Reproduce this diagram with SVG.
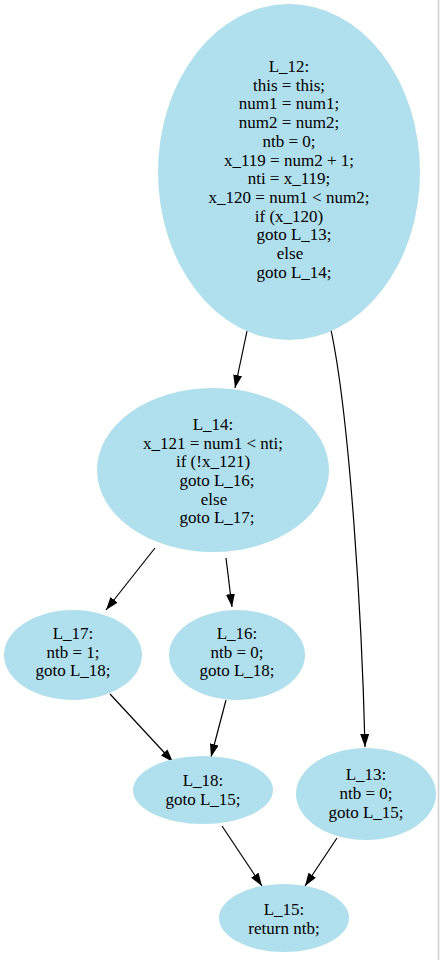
<svg xmlns="http://www.w3.org/2000/svg" width="440" height="960" viewBox="0 0 440 960">
<style>
.node ellipse{fill:#b0dfed;stroke:none}
.node text{font-family:'Liberation Serif','Times New Roman',serif;font-size:17px;fill:#000;text-anchor:middle}
.edge{fill:none;stroke:#000;stroke-width:1.2}
</style>
<defs>
<marker id="arr" viewBox="0 0 13 9" refX="13" refY="4.5" markerWidth="13" markerHeight="9" markerUnits="userSpaceOnUse" orient="auto">
<path d="M0,0 L13,4.5 L0,9 z" fill="#000"/>
</marker>
</defs>
<rect x="0" y="0" width="440" height="960" fill="#fff"/>
<line x1="438.5" y1="0" x2="438.5" y2="960" stroke="#cfcfcf" stroke-width="1.5"/>
<g id="connectors">
<path class="edge" d="M247,331 L235,388" marker-end="url(#arr)"/>
<path class="edge" d="M331,330 C350,420 362,620 365,747" marker-end="url(#arr)"/>
<path class="edge" d="M155,548 L106,610" marker-end="url(#arr)"/>
<path class="edge" d="M226,558 L232,607" marker-end="url(#arr)"/>
<path class="edge" d="M110,694 L173,762" marker-end="url(#arr)"/>
<path class="edge" d="M226,700 L211,757" marker-end="url(#arr)"/>
<path class="edge" d="M222,826 L262,886" marker-end="url(#arr)"/>
<path class="edge" d="M337,838 L305,886" marker-end="url(#arr)"/>
</g>
<g id="L_12" class="node">
<ellipse cx="289" cy="172" rx="131" ry="168"/>
<text x="289" y="72">L_12:</text>
<text x="289" y="90.7">this = this;</text>
<text x="289" y="109.4">num1 = num1;</text>
<text x="289" y="128.1">num2 = num2;</text>
<text x="289" y="146.8">ntb = 0;</text>
<text x="289" y="165.5">x_119 = num2 + 1;</text>
<text x="289" y="184.2">nti = x_119;</text>
<text x="289" y="202.9">x_120 = num1 &lt; num2;</text>
<text x="289" y="221.6">if (x_120)</text>
<text x="294" y="240.3">goto L_13;</text>
<text x="290" y="259">else</text>
<text x="294" y="277.7">goto L_14;</text>
</g>
<g id="L_14" class="node">
<ellipse cx="213" cy="470" rx="116" ry="82"/>
<text x="213" y="430">L_14:</text>
<text x="213" y="448.7">x_121 = num1 &lt; nti;</text>
<text x="213" y="467.4">if (!x_121)</text>
<text x="217" y="486">goto L_16;</text>
<text x="214" y="504.7">else</text>
<text x="217" y="523.4">goto L_17;</text>
</g>
<g id="L_17" class="node">
<ellipse cx="73" cy="655" rx="69" ry="45"/>
<text x="73" y="639">L_17:</text>
<text x="73" y="657.5">ntb = 1;</text>
<text x="73" y="676">goto L_18;</text>
</g>
<g id="L_16" class="node">
<ellipse cx="237" cy="655" rx="68" ry="45"/>
<text x="237" y="639">L_16:</text>
<text x="237" y="657.5">ntb = 0;</text>
<text x="237" y="676">goto L_18;</text>
</g>
<g id="L_18" class="node">
<ellipse cx="203" cy="790" rx="70" ry="34"/>
<text x="203" y="786">L_18:</text>
<text x="203" y="805">goto L_15;</text>
</g>
<g id="L_13" class="node">
<ellipse cx="366" cy="794" rx="70" ry="46"/>
<text x="366" y="780">L_13:</text>
<text x="366" y="799">ntb = 0;</text>
<text x="366" y="818">goto L_15;</text>
</g>
<g id="L_15" class="node">
<ellipse cx="284" cy="918" rx="65" ry="34"/>
<text x="284" y="915">L_15:</text>
<text x="284" y="934">return ntb;</text>
</g>
</svg>
